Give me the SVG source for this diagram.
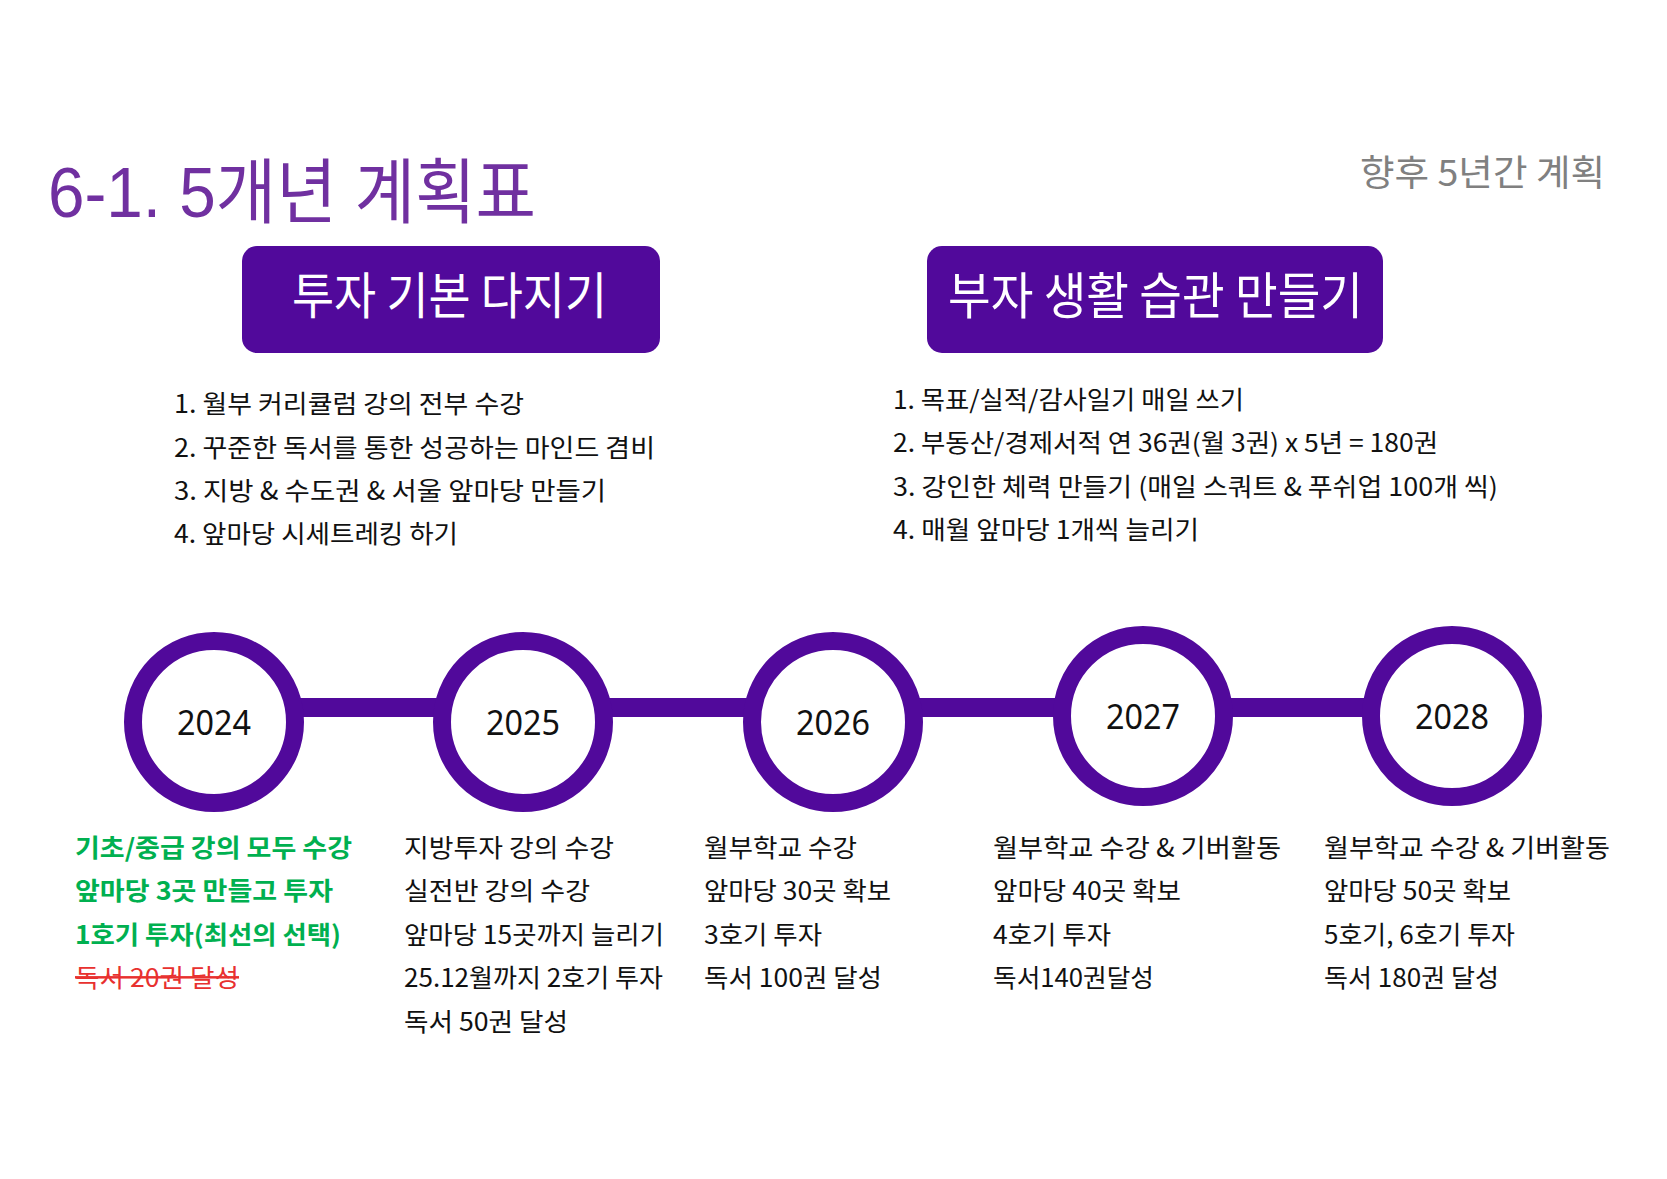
<svg xmlns="http://www.w3.org/2000/svg" width="1667" height="1179" viewBox="0 0 1667 1179">
<style>
.k{font-family:"Noto Sans CJK KR","Noto Sans",sans-serif}
.title{font-family:"Liberation Sans","Noto Sans CJK KR",sans-serif;font-size:71px;fill:#7030A0}
.sub{font-size:36px;fill:#808080}
.box{fill:#51099B}
.boxt{font-size:50px;fill:#FFFFFF}
.li{font-size:25px;fill:#111111}
.ring{fill:#FFFFFF;stroke:#51099B;stroke-width:18}
.yr{font-family:"Noto Sans","Open Sans",sans-serif;font-size:35px;fill:#111111;text-anchor:middle}
.bt{font-size:25px;fill:#111111}
.g{fill:#00B050;font-weight:bold}
.r{fill:#E8312F;text-decoration:line-through}
</style>
<rect width="1667" height="1179" fill="#FFFFFF"/>
<g id="title">
<text class="title" x="48" y="217" textLength="488" lengthAdjust="spacingAndGlyphs">6-1. 5개년 계획표</text>
<text class="k sub" x="1360" y="186" textLength="245" lengthAdjust="spacingAndGlyphs">향후 5년간 계획</text>
</g>
<g id="box-basics">
<rect class="box" x="242" y="246" width="418" height="107" rx="15"/>
<text class="k boxt" x="292" y="314" textLength="315" lengthAdjust="spacingAndGlyphs">투자 기본 다지기</text>
</g>
<g id="box-habits">
<rect class="box" x="927" y="246" width="456" height="107" rx="15"/>
<text class="k boxt" x="948" y="314" textLength="415" lengthAdjust="spacingAndGlyphs">부자 생활 습관 만들기</text>
</g>
<g id="list-basics" class="k li">
<text x="174" y="413" textLength="350" lengthAdjust="spacingAndGlyphs">1. 월부 커리큘럼 강의 전부 수강</text>
<text x="174" y="457" textLength="481" lengthAdjust="spacingAndGlyphs">2. 꾸준한 독서를 통한 성공하는 마인드 겸비</text>
<text x="174" y="500" textLength="432" lengthAdjust="spacingAndGlyphs">3. 지방 &amp; 수도권 &amp; 서울 앞마당 만들기</text>
<text x="174" y="543" textLength="284" lengthAdjust="spacingAndGlyphs">4. 앞마당 시세트레킹 하기</text>
</g>
<g id="list-habits" class="k li">
<text x="893" y="409" textLength="351" lengthAdjust="spacingAndGlyphs">1. 목표/실적/감사일기 매일 쓰기</text>
<text x="893" y="452" textLength="545" lengthAdjust="spacingAndGlyphs">2. 부동산/경제서적 연 36권(월 3권) x 5년 = 180권</text>
<text x="893" y="496" textLength="605" lengthAdjust="spacingAndGlyphs">3. 강인한 체력 만들기 (매일 스쿼트 &amp; 푸쉬업 100개 씩)</text>
<text x="893" y="539" textLength="306" lengthAdjust="spacingAndGlyphs">4. 매월 앞마당 1개씩 늘리기</text>
</g>
<g id="connectors">
<rect x="214" y="698" width="1238" height="19" fill="#51099B"/>
</g>
<g id="y2024">
<circle class="ring" cx="214" cy="722" r="81"/>
<text class="yr" x="214" y="735" textLength="74" lengthAdjust="spacingAndGlyphs">2024</text>
</g>
<g id="y2025">
<circle class="ring" cx="523" cy="722" r="81"/>
<text class="yr" x="523" y="735" textLength="74" lengthAdjust="spacingAndGlyphs">2025</text>
</g>
<g id="y2026">
<circle class="ring" cx="833" cy="722" r="81"/>
<text class="yr" x="833" y="735" textLength="74" lengthAdjust="spacingAndGlyphs">2026</text>
</g>
<g id="y2027">
<circle class="ring" cx="1143" cy="716" r="81"/>
<text class="yr" x="1143" y="729" textLength="74" lengthAdjust="spacingAndGlyphs">2027</text>
</g>
<g id="y2028">
<circle class="ring" cx="1452" cy="716" r="81"/>
<text class="yr" x="1452" y="729" textLength="74" lengthAdjust="spacingAndGlyphs">2028</text>
</g>
<g id="plan-2024" class="k bt">
<text class="g" x="75" y="857" textLength="277" lengthAdjust="spacingAndGlyphs">기초/중급 강의 모두 수강</text>
<text class="g" x="75" y="900" textLength="258" lengthAdjust="spacingAndGlyphs">앞마당 3곳 만들고 투자</text>
<text class="g" x="75" y="944" textLength="266" lengthAdjust="spacingAndGlyphs">1호기 투자(최선의 선택)</text>
<text class="r" x="75" y="987" textLength="164" lengthAdjust="spacingAndGlyphs">독서 20권 달성</text>
</g>
<g id="plan-2025" class="k bt">
<text x="404" y="857" textLength="210" lengthAdjust="spacingAndGlyphs">지방투자 강의 수강</text>
<text x="404" y="900" textLength="186" lengthAdjust="spacingAndGlyphs">실전반 강의 수강</text>
<text x="404" y="944" textLength="260" lengthAdjust="spacingAndGlyphs">앞마당 15곳까지 늘리기</text>
<text x="404" y="987" textLength="259" lengthAdjust="spacingAndGlyphs">25.12월까지 2호기 투자</text>
<text x="404" y="1031" textLength="164" lengthAdjust="spacingAndGlyphs">독서 50권 달성</text>
</g>
<g id="plan-2026" class="k bt">
<text x="704" y="857" textLength="153" lengthAdjust="spacingAndGlyphs">월부학교 수강</text>
<text x="704" y="900" textLength="187" lengthAdjust="spacingAndGlyphs">앞마당 30곳 확보</text>
<text x="704" y="944" textLength="118" lengthAdjust="spacingAndGlyphs">3호기 투자</text>
<text x="704" y="987" textLength="178" lengthAdjust="spacingAndGlyphs">독서 100권 달성</text>
</g>
<g id="plan-2027" class="k bt">
<text x="993" y="857" textLength="288" lengthAdjust="spacingAndGlyphs">월부학교 수강 &amp; 기버활동</text>
<text x="993" y="900" textLength="188" lengthAdjust="spacingAndGlyphs">앞마당 40곳 확보</text>
<text x="993" y="944" textLength="118" lengthAdjust="spacingAndGlyphs">4호기 투자</text>
<text x="993" y="987" textLength="161" lengthAdjust="spacingAndGlyphs">독서140권달성</text>
</g>
<g id="plan-2028" class="k bt">
<text x="1324" y="857" textLength="286" lengthAdjust="spacingAndGlyphs">월부학교 수강 &amp; 기버활동</text>
<text x="1324" y="900" textLength="187" lengthAdjust="spacingAndGlyphs">앞마당 50곳 확보</text>
<text x="1324" y="944" textLength="191" lengthAdjust="spacingAndGlyphs">5호기, 6호기 투자</text>
<text x="1324" y="987" textLength="175" lengthAdjust="spacingAndGlyphs">독서 180권 달성</text>
</g>
</svg>
